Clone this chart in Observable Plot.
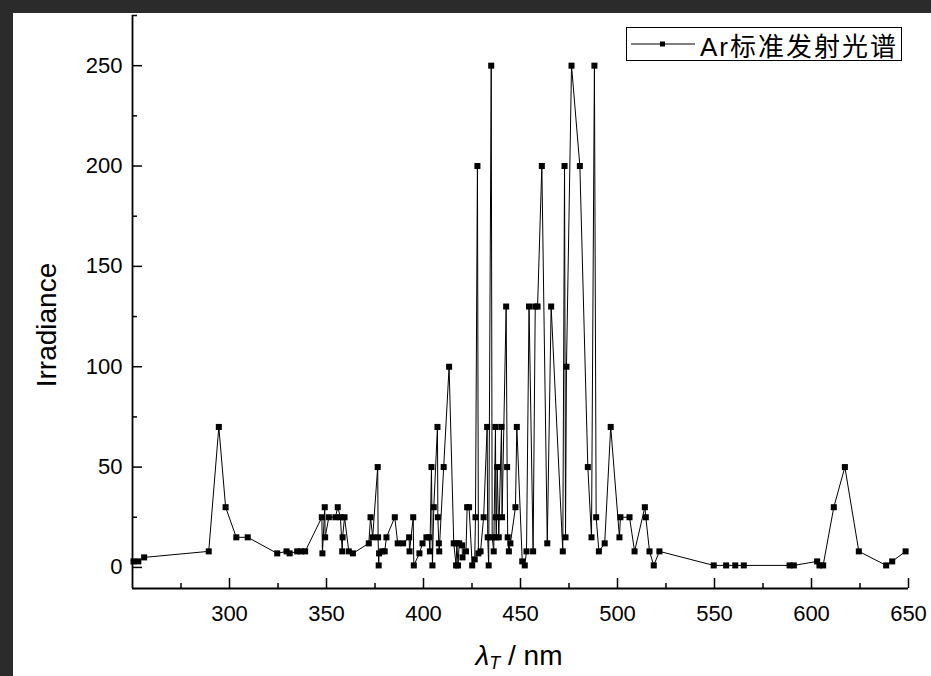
<!DOCTYPE html>
<html><head><meta charset="utf-8">
<script src="https://cdn.jsdelivr.net/npm/d3@7"></script>
<script src="https://cdn.jsdelivr.net/npm/@observablehq/plot@0.6"></script>
<style>
body{margin:0;background:#2b2b2b;width:931px;height:676px;overflow:hidden;position:relative;font-family:"Liberation Sans",Arial,sans-serif}
#paper{position:absolute;left:13px;top:13px;width:918px;height:663px;background:#fff}
#chart{position:absolute;left:0;top:0}
#legend{position:absolute;left:626px;top:27px;width:276px;height:34px;border:1px solid #000;background:#fff;display:flex;align-items:center;box-sizing:border-box}
#legend span{font-size:26px;letter-spacing:2px;color:#000;font-family:"Liberation Sans","Noto Sans CJK SC",sans-serif;margin-left:3px;white-space:nowrap}
#xtitle{position:absolute;left:519px;top:656px;font-size:28px;line-height:28px;color:#000;white-space:nowrap;transform:translate(-50%,-50%)}
#xtitle sub{font-size:18px;line-height:0;vertical-align:-4px}
#ytitle{position:absolute;left:47px;top:325px;font-size:28px;color:#000;transform:translate(-50%,-50%) rotate(-90deg);white-space:nowrap}
</style></head>
<body>
<div id="paper"></div>
<div id="chart"></div>
<div id="legend"><svg width="70" height="20"><line x1="4" y1="10" x2="68" y2="10" stroke="#000" stroke-width="1"/><rect x="33" y="7.5" width="5" height="5" fill="#000"/></svg><span>Ar标准发射光谱</span></div>
<div id="xtitle"><i>λ</i><sub><i>T</i></sub> / nm</div>
<div id="ytitle">Irradiance</div>
<script>
const wavelength = [250.5,253,256,289.3,294.5,298,303.5,309.4,324.6,329.4,331,334.9,337,339,
347.6,347.9,349.1,349.3,351.2,354.6,355.8,357.2,358.1,358.3,359.3,361.5,363.6,
371.8,372.7,373.8,376.4,376.6,376.9,377.1,378.7,380,380.9,385.2,386.7,389.5,392.6,392.8,394.7,395,397.9,399.5,
401.5,402.9,403.3,404.1,404.6,405.3,407.2,407.4,407.9,408.1,410.4,413.2,415.6,416.8,417.2,417.8,418.4,419.9,420.1,421.9,422.5,423.5,
425.1,426.4,426.8,427.8,428.3,429.4,431,432.8,433.1,433.6,434.9,435.4,436.2,437.1,437.3,437.5,438,438.8,440.2,440.5,
442.6,443.1,443.4,444,444.8,447.4,448.1,450.9,452.2,453.1,454.4,456.5,457.6,458.8,461,463.8,465.8,
471.8,472.7,473.2,473.7,476.3,480.6,484.7,486.6,488.1,489,490.4,493.4,496.5,501,501.5,506.2,508.8,514.1,514.6,516.5,518.7,521.6,
549.6,556,560.7,565.1,588.7,590.9,602.9,604.1,606,611.5,617.2,624.4,638.5,641.6,648.5];
const irradiance = [3,3,5,8,70,30,15,15,7,8,7,8,8,8,
25,7,30,15,25,25,30,25,8,15,25,8,7,
12,25,15,50,15,1,7,8,8,15,25,12,12,15,8,25,1,7,12,
15,15,8,50,1,30,70,25,12,8,50,100,12,1,12,1,12,11,5,8,30,30,
1,4,25,200,7,8,25,70,15,1,250,15,8,70,25,15,50,15,70,25,
130,50,15,8,12,30,70,3,1,8,130,8,130,130,200,12,130,
8,200,15,100,250,200,50,15,250,25,8,12,70,15,25,25,8,30,25,8,1,8,
1,1,1,1,1,1,3,1,1,30,50,8,1,3,8];
const xDomain = [250, 650];
const yDomain = [-10.5, 275];
const xMajor = [300,350,400,450,500,550,600,650];
const xMinor = [275,325,375,425,475,525,575,625];
const yMajor = [0,50,100,150,200,250];
const yMinor = [25,75,125,175,225,275];
const data = wavelength.map((x,i)=>({x, y: irradiance[i]}));

const chart = Plot.plot({
  width: 931, height: 676,
  marginLeft: 132, marginRight: 23, marginTop: 15, marginBottom: 88,
  style: {background: "transparent", fontFamily: "'Liberation Sans', Arial, sans-serif", fontSize: "22px", color: "#000"},
  x: {domain: xDomain},
  y: {domain: yDomain},
  marks: [
    Plot.axisX({ticks: xMajor, tickSize: -10, tickPadding: 27, label: null, strokeWidth: 1.5, fontSize: 22}),
    Plot.axisX({ticks: xMinor, tickSize: -5, tickFormat: () => "", label: null, strokeWidth: 1.5}),
    Plot.axisY({ticks: yMajor, tickSize: -10, tickPadding: 20, label: null, strokeWidth: 1.5, fontSize: 22}),
    Plot.axisY({ticks: yMinor, tickSize: -5, tickFormat: () => "", label: null, strokeWidth: 1.5}),
    Plot.ruleX([xDomain[0]], {stroke: "#000", strokeWidth: 1.8}),
    Plot.ruleY([yDomain[0]], {stroke: "#000", strokeWidth: 1.8}),
    Plot.line(data, {x: "x", y: "y", stroke: "#000", strokeWidth: 1}),
    Plot.dot(data, {x: "x", y: "y", symbol: "square", fill: "#000", stroke: null, r: 3.4})
  ]
});
document.getElementById("chart").appendChild(chart);
</script>
</body></html>
